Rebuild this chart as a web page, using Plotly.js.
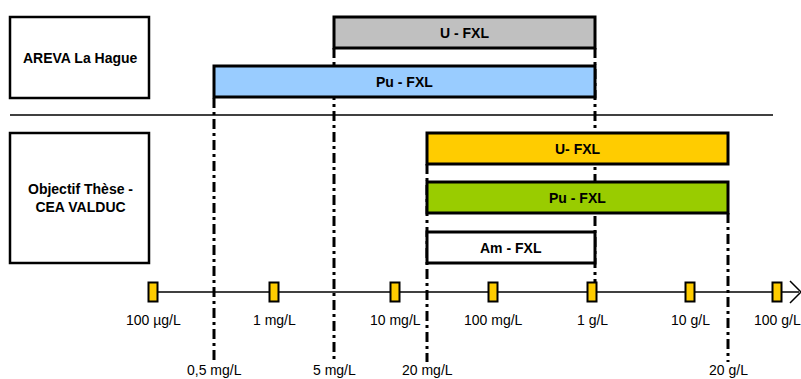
<!DOCTYPE html>
<html>
<head>
<meta charset="utf-8">
<script src="https://cdn.plot.ly/plotly-3.0.1.min.js"></script>
<style>
  html, body { margin: 0; padding: 0; background: #fff; }
  #chart { width: 801px; height: 379px; }
</style>
</head>
<body>
<div id="chart"></div>
<script>
const scaleLabels = ["100 µg/L", "1 mg/L", "10 mg/L", "100 mg/L", "1 g/L", "10 g/L", "100 g/L"];
const scalePos = [153, 274, 395, 493, 592, 690, 777];

// limites des domaines
const limitLabels = ["0,5 mg/L", "5 mg/L", "20 mg/L", "20 g/L"];
const limitPos = [214, 334, 427, 728];

// barres FXL
const barNames = ["U - FXL", "Pu - FXL", "U- FXL", "Pu - FXL", "Am - FXL"];
const barStart = [334, 214, 427, 427, 427];
const barEnd = [595, 595, 728, 728, 595];
const barColors = ["#c0c0c0", "#99ccff", "#ffcc00", "#99cc00", "#ffffff"];
const barTop = [17, 66, 133, 182, 232];
const barHeight = 31;

// groupes
const groupNames = ["AREVA La Hague", "Objectif Thèse -<br>CEA VALDUC"];
const groupTop = [17, 133];
const groupBottom = [98, 263];

// lignes verticales pointillées : x, début, fin
const guideX = [214, 334, 427, 595, 728];
const guideFrom = [98, 48, 164, 48, 213];
const guideTo = [362, 362, 362, 283, 362];

const axisY = 292;
const shapes = [];
const annotations = [];
const font = {family: "Liberation Sans, Arial, sans-serif", size: 14, color: "#000"};
const boldFont = {family: "Liberation Sans, Arial, sans-serif", size: 14, color: "#000"};

// pointillés (dessous)
guideX.forEach((x, i) => {
    shapes.push({
        type: "line", xref: "x", yref: "y", layer: "below",
        x0: x, x1: x, y0: guideFrom[i], y1: guideTo[i],
        line: {color: "#000", width: 3, dash: "10px,4px,3px,4px"}
    });
});

// axe de concentration
shapes.push({
    type: "line", xref: "x", yref: "y",
    x0: scalePos[0], x1: 799, y0: axisY, y1: axisY,
    line: {color: "#000", width: 1.5}
});
shapes.push({
    type: "path", xref: "x", yref: "y",
    path: `M 790 281 L 801 ${axisY} L 790 303`,
    line: {color: "#000", width: 1.5}
});

// séparateur
shapes.push({
    type: "line", xref: "x", yref: "y",
    x0: 10, x1: 773, y0: 115, y1: 115,
    line: {color: "#000", width: 1.5}
});

// cadres des groupes
groupNames.forEach((name, i) => {
    shapes.push({
        type: "rect", xref: "x", yref: "y",
        x0: 10, x1: 149, y0: groupTop[i], y1: groupBottom[i],
        fillcolor: "#fff", line: {color: "#000", width: 2.5}
    });
    annotations.push({
        x: 80, y: (groupTop[i] + groupBottom[i]) / 2, xref: "x", yref: "y",
        text: `<b>${name}</b>`, showarrow: false,
        font: boldFont, align: "center"
    });
});

// barres
barNames.forEach((name, i) => {
    shapes.push({
        type: "rect", xref: "x", yref: "y",
        x0: barStart[i], x1: barEnd[i], y0: barTop[i], y1: barTop[i] + barHeight,
        fillcolor: barColors[i], line: {color: "#000", width: 3}
    });
    annotations.push({
        x: (barStart[i] + barEnd[i]) / 2, y: barTop[i] + barHeight / 2,
        xref: "x", yref: "y", text: `<b>${name}</b>`, showarrow: false, font: boldFont
    });
});

// repères de l'échelle
scalePos.forEach((x, i) => {
    shapes.push({
        type: "rect", xref: "x", yref: "y",
        x0: x - 4.5, x1: x + 4.5, y0: axisY - 9.5, y1: axisY + 9.5,
        fillcolor: "#ffcc00", line: {color: "#000", width: 2}
    });
    annotations.push({
        x: x, y: 320, xref: "x", yref: "y", text: scaleLabels[i],
        showarrow: false, font: font
    });
});

// étiquettes des limites
limitPos.forEach((x, i) => {
    annotations.push({
        x: x, y: 370, xref: "x", yref: "y", text: limitLabels[i],
        showarrow: false, font: font
    });
});

Plotly.newPlot("chart", [{x: [0], y: [0], mode: "markers", marker: {opacity: 0}, hoverinfo: "skip", showlegend: false}], {
    width: 801,
    height: 379,
    margin: {l: 0, r: 0, t: 0, b: 0},
    paper_bgcolor: "#fff",
    plot_bgcolor: "#fff",
    xaxis: {range: [0, 801], visible: false, fixedrange: true},
    yaxis: {range: [379, 0], visible: false, fixedrange: true},
    shapes: shapes,
    annotations: annotations,
    showlegend: false
}, {staticPlot: true});
</script>
</body>
</html>
